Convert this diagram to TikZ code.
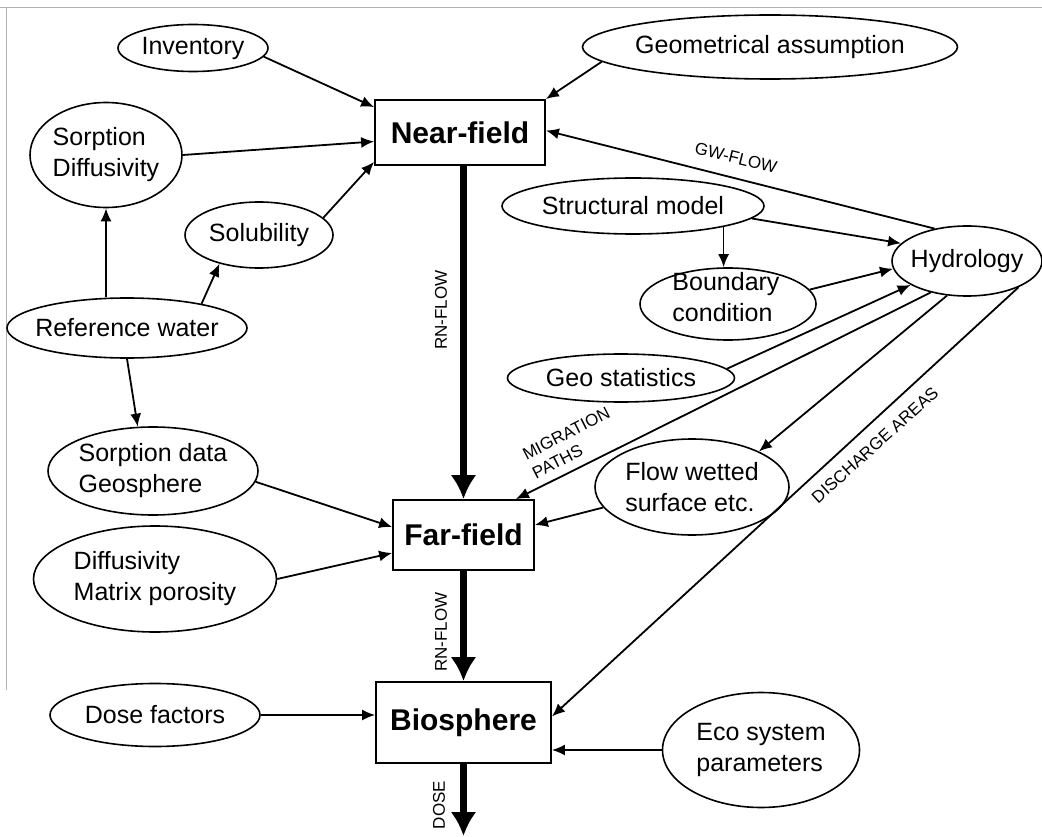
\documentclass[tikz,border=0pt]{standalone}
\usepackage{fontspec}
\setmainfont{Liberation Sans}
\usetikzlibrary{shapes.geometric,arrows.meta,calc}
\begin{document}
\begin{tikzpicture}[x=1pt,y=-1pt,
  oval/.style={draw, ellipse, line width=1.6pt, inner sep=0pt},
  ovtext/.style={font=\fontsize{25}{31}\selectfont, align=left, inner sep=0pt},
  box/.style={draw, rectangle, line width=1.8pt, inner sep=0pt, font=\fontsize{30}{36}\selectfont\bfseries},
  conn/.style={line width=1.8pt, -{Latex[length=13pt,width=11pt]}},
  flow/.style={line width=7pt, -{Latex[length=24pt,width=26pt]}},
  lbl/.style={font=\fontsize{17}{21}\selectfont, inner sep=0pt, align=left},
  frame/.style={gray!60, line width=1pt}
]
\useasboundingbox (0,0) rectangle (1042,837);
% scan frame
\coordinate (f1) at (0,8);
\coordinate (f2) at (1042,8);
\coordinate (f3) at (6,8);
\coordinate (f4) at (6,690);
\draw[frame] (f1) -- (f2);
\draw[frame] (f3) -- (f4);

% boxes
\node[box, minimum width=170pt, minimum height=65pt] (nf) at (460,132.5) {Near-field};
\node[box, minimum width=141pt, minimum height=70pt] (ff) at (463.5,535) {Far-field};
\node[box, minimum width=175pt, minimum height=81pt] (bs) at (463.5,722.5) {Biosphere};

% ellipses
\node[oval, minimum width=150pt, minimum height=47pt] (inv) at (193,48) {};
\node[ovtext] (inv-t) at (inv) {Inventory};
\node[oval, minimum width=375pt, minimum height=64pt] (geo) at (770,47) {};
\node[ovtext] (geo-t) at (geo) {Geometrical assumption};
\node[oval, minimum width=152pt, minimum height=105pt] (sd) at (106,155) {};
\node[ovtext] (sd-t) at (sd) {Sorption\\Diffusivity};
\node[oval, minimum width=148pt, minimum height=66pt] (sol) at (259,235) {};
\node[ovtext] (sol-t) at (sol) {Solubility};
\node[oval, minimum width=240pt, minimum height=60pt] (rw) at (127,328) {};
\node[ovtext] (rw-t) at (rw) {Reference water};
\node[oval, minimum width=210pt, minimum height=88pt] (sdg) at (153,471) {};
\node[ovtext] (sdg-t) at (sdg) {Sorption data\\Geosphere};
\node[oval, minimum width=243pt, minimum height=106pt] (dmp) at (155,579) {};
\node[ovtext] (dmp-t) at (dmp) {Diffusivity\\Matrix porosity};
\node[oval, minimum width=210pt, minimum height=63pt] (df) at (155,715) {};
\node[ovtext] (df-t) at (df) {Dose factors};
\node[oval, minimum width=197pt, minimum height=115pt] (eco) at (761,750) {};
\node[ovtext] (eco-t) at (eco) {Eco system\\parameters};
\node[oval, minimum width=262pt, minimum height=56pt] (sm) at (633,206) {};
\node[ovtext] (sm-t) at (sm) {Structural model};
\node[oval, minimum width=176pt, minimum height=72pt] (bc) at (728,304) {};
\node[ovtext] (bc-t) at (726,297) {Boundary\\condition};
\node[oval, minimum width=150pt, minimum height=70pt] (hyd) at (967,261) {};
\node[ovtext] (hyd-t) at (hyd) {Hydrology};
\node[oval, minimum width=227pt, minimum height=48pt] (gs) at (621,378) {};
\node[ovtext] (gs-t) at (gs) {Geo statistics};
\node[oval, minimum width=194pt, minimum height=96pt] (fw) at (692,487) {};
\node[ovtext] (fw-t) at (fw) {Flow wetted\\surface etc.};

% main flow
\coordinate (out) at (463.5,836);
\draw[flow] (nf.south -| ff.north) -- (ff.north);
\draw[flow] (ff.south) -- (bs.north);
\draw[flow] (bs.south) -- (out);

% connectors to near-field
\draw[conn] (inv.-7) -- ($(nf.north west)+(0,8)$);
\draw[conn] (sd.east) -- ($(nf.west)+(0,9)$);
\draw[conn] (sol.15) -- ($(nf.south west)+(0,-4)$);
\draw[conn] (geo.185) -- (nf.north east);
\draw[conn] (hyd.135) -- ($(nf.east)+(0,-2)$);

% reference water
\draw[conn] (rw.north -| sd.south) -- (sd.south);
\draw[conn] (rw.18) -- (sol.216);
\draw[conn] (rw.south) -- (sdg.109);

% hydrology group
\draw[conn] (sm.-13) -- (sm.-13 |- bc.north);
\draw[conn] (sm.-6) -- (hyd.165);
\draw[conn] (bc.10) -- (hyd.186);
\draw[conn] (gs.5) -- (hyd.203);
\draw[conn] (hyd.221) -- ($(ff.north east)+(-19,0)$);
\draw[conn] (hyd.240) -- (fw.28);
\draw[conn] (hyd.-27) -- ($(bs.east)+(0,-6)$);

% far-field inputs
\draw[conn] (fw.193) -- ($(ff.east)+(0,-10)$);
\draw[conn] (sdg.-6) -- ($(ff.west)+(0,-8)$);
\draw[conn] (dmp.east) -- ($(ff.west)+(0,18)$);

% biosphere inputs
\draw[conn] (df.east) -- (df.east -| bs.west);
\draw[conn] (eco.west) -- (eco.west -| bs.east);

% labels
\node[lbl, rotate=90] (l-rn1) at (441,310) {RN-FLOW};
\node[lbl, rotate=90] (l-rn2) at (441,632) {RN-FLOW};
\node[lbl, rotate=90] (l-dose) at (439,805) {DOSE};
\node[lbl, rotate=-14] (l-gw) at (736,158) {GW-FLOW};
\node[lbl, rotate=27] (l-mig) at (571,443) {MIGRATION\\PATHS};
\node[lbl, rotate=42] (l-dis) at (875,445) {DISCHARGE AREAS};
\end{tikzpicture}
\end{document}
